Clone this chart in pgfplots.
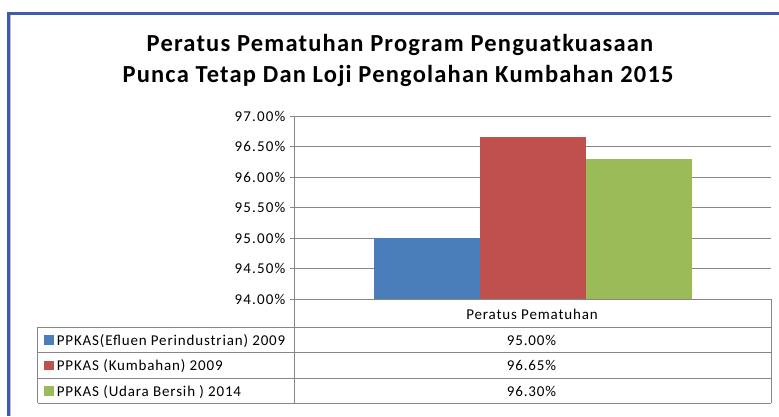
\documentclass[border=0pt]{standalone}
\usepackage{pgfplots}
\pgfplotsset{compat=1.18}
\usepackage{fontspec}
\setmainfont{Carlito}[LetterSpace=5.6]
\newfontfamily\titlefont{Carlito}[LetterSpace=4.9]
\newfontfamily\tickfont{Carlito}[LetterSpace=8]
\definecolor{sblue}{HTML}{4A7EBB}
\definecolor{sred}{HTML}{C0504D}
\definecolor{sgreen}{HTML}{9BBB59}
\definecolor{gridgray}{HTML}{878787}
\definecolor{framecol}{HTML}{3F5BAE}
\newcommand{\tfont}{\fontsize{15}{17}\selectfont}
\begin{document}
\begin{tikzpicture}[x=1pt,y=1pt]
\path[use as bounding box] (0,0) rectangle (779,416);
% outer frame
\draw[black!25, line width=1pt] (10,0) -- (10,401) -- (779,401);
\draw[framecol, line width=2.5pt] (8.5,0) -- (8.5,402.5) -- (779,402.5);
% title
\node[font=\titlefont\fontsize{24.5}{28}\selectfont\bfseries, anchor=base, inner sep=0pt] at (400,364) {Peratus Pematuhan Program Penguatkuasaan};
\node[font=\titlefont\fontsize{24.5}{28}\selectfont\bfseries, anchor=base, inner sep=0pt] at (398,334) {Punca Tetap Dan Loji Pengolahan Kumbahan 2015};
\begin{axis}[
  at={(294pt,117pt)}, anchor=south west,
  scale only axis, width=477pt, height=183pt,
  xmin=-1.5, xmax=1.5, ymin=94, ymax=97,
  ytick={94,94.5,95,95.5,96,96.5,97},
  xtick=\empty,
  ybar=0pt, bar width=106pt,
  axis x line*=bottom, axis y line*=left,
  axis line style={draw=gridgray, line width=1pt, -},
  ymajorgrids, grid style={draw=gridgray, line width=1pt},
  major tick length=4pt, tick align=outside,
  ytick style={draw=gridgray, line width=1pt},
  /pgf/number format/assume math mode=true,
  yticklabel={\pgfmathprintnumber[fixed,fixed zerofill,precision=2]{\tick}\%},
  yticklabel style={font=\tickfont\tfont, text=black, xshift=-1pt},
  clip=false,
]
\addplot[fill=sblue, draw=none] coordinates {(0,95.00)};
\addplot[fill=sred, draw=none] coordinates {(0,96.65)};
\addplot[fill=sgreen, draw=none] coordinates {(0,96.30)};
\end{axis}
% data table
\begin{scope}[gridgray, line width=1pt]
\draw (294,117) -- (294,13);
\draw (771,117) -- (771,13);
\draw (37.7,89) -- (771,89);
\draw (37.7,64) -- (771,64);
\draw (37.7,38) -- (771,38);
\draw (37.7,13) -- (771,13);
\draw (37.7,89) -- (37.7,13);
\end{scope}
\node[font=\tfont, anchor=base, inner sep=0pt] at (532,96.7) {Peratus Pematuhan};
\fill[sblue] (44.3,71.5) rectangle (54,81);
\fill[sred] (44.3,46) rectangle (54,55.5);
\fill[sgreen] (44.3,20.5) rectangle (54,30);
\node[font=\tfont, anchor=base west, inner sep=0pt] at (56.7,71) {PPKAS(Efluen Perindustrian) 2009};
\node[font=\tfont, anchor=base west, inner sep=0pt] at (56.7,45.7) {PPKAS (Kumbahan) 2009};
\node[font=\tfont, anchor=base west, inner sep=0pt] at (56.7,20) {PPKAS (Udara Bersih ) 2014};
\node[font=\tfont, anchor=base, inner sep=0pt] at (531.5,71) {95.00\%};
\node[font=\tfont, anchor=base, inner sep=0pt] at (531.5,45.7) {96.65\%};
\node[font=\tfont, anchor=base, inner sep=0pt] at (531.5,20) {96.30\%};
\end{tikzpicture}
\end{document}
